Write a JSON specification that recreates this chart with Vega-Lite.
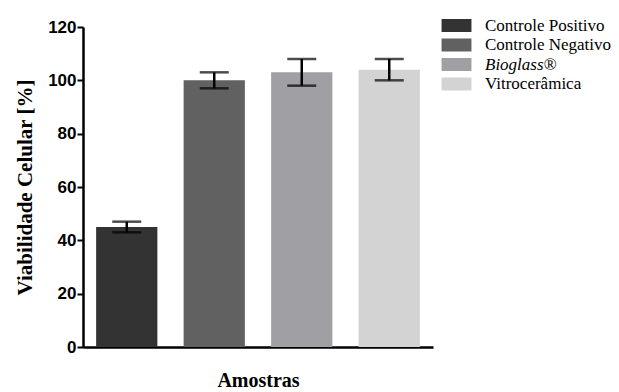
{
  "$schema": "https://vega.github.io/schema/vega-lite/v6.json",
  "autosize": {"type": "none"},
  "padding": {"left": 83, "top": 27, "right": 186, "bottom": 45},
  "width": 350,
  "height": 320,
  "background": "white",
  "data": {
    "values": [
      {"grupo": "Controle Positivo", "media": 45, "inf": 43, "sup": 47},
      {"grupo": "Controle Negativo", "media": 100, "inf": 97, "sup": 103},
      {"grupo": "Bioglass®", "media": 103, "inf": 98, "sup": 108},
      {"grupo": "Vitrocerâmica", "media": 104, "inf": 100, "sup": 108}
    ]
  },
  "encoding": {
    "x": {
      "field": "grupo",
      "type": "nominal",
      "sort": ["Controle Positivo", "Controle Negativo", "Bioglass®", "Vitrocerâmica"],
      "scale": {"paddingInner": 0.3, "paddingOuter": 0.15},
      "axis": {
        "title": "Amostras",
        "labels": false,
        "ticks": false,
        "domainColor": "black",
        "domainWidth": 2.5,
        "titleFont": "Liberation Serif",
        "titleFontSize": 20,
        "titleFontWeight": "bold",
        "titleColor": "black",
        "titlePadding": 23
      }
    }
  },
  "layer": [
    {
      "mark": {"type": "bar"},
      "encoding": {
        "y": {
          "field": "media",
          "type": "quantitative",
          "scale": {"domain": [0, 120]},
          "axis": {
            "title": "Viabilidade Celular [%]",
            "values": [0, 20, 40, 60, 80, 100, 120],
            "grid": false,
            "domainColor": "black",
            "domainWidth": 2.5,
            "tickColor": "black",
            "tickWidth": 2,
            "tickSize": 6,
            "labelFont": "Liberation Sans",
            "labelFontSize": 17,
            "labelFontWeight": "bold",
            "labelColor": "black",
            "labelPadding": 1,
            "titleFont": "Liberation Serif",
            "titleFontSize": 21,
            "titleFontWeight": "bold",
            "titleColor": "black",
            "titlePadding": 12
          }
        },
        "color": {
          "field": "grupo",
          "type": "nominal",
          "sort": ["Controle Positivo", "Controle Negativo", "Bioglass®", "Vitrocerâmica"],
          "scale": {
            "domain": ["Controle Positivo", "Controle Negativo", "Bioglass®", "Vitrocerâmica"],
            "range": ["#333333", "#616161", "#a0a0a4", "#d3d3d3"]
          },
          "legend": {
            "title": null,
            "orient": "none",
            "legendX": 365,
            "legendY": -10,
            "padding": 0,
            "symbolType": "M-2.3,-1H2.3V1H-2.3Z",
            "symbolSize": 169,
            "symbolStrokeWidth": 0,
            "symbolOpacity": 1,
            "labelFont": "Liberation Serif",
            "labelFontSize": 17,
            "labelColor": "black",
            "labelOffset": 20,
            "rowPadding": 1.5,
            "labelLimit": 200,
            "encode": {
              "labels": {
                "update": {
                  "fontStyle": {"signal": "datum.label === 'Bioglass®' ? 'italic' : 'normal'"}
                }
              }
            }
          }
        }
      }
    },
    {
      "mark": {"type": "rule", "color": "black", "strokeWidth": 2.5},
      "encoding": {
        "y": {"field": "inf", "type": "quantitative"},
        "y2": {"field": "sup"}
      }
    },
    {
      "mark": {"type": "tick", "color": "black", "thickness": 2.5, "size": 29, "orient": "horizontal"},
      "encoding": {
        "y": {"field": "inf", "type": "quantitative"}
      }
    },
    {
      "mark": {"type": "tick", "color": "black", "thickness": 2.5, "size": 29, "orient": "horizontal"},
      "encoding": {
        "y": {"field": "sup", "type": "quantitative"}
      }
    }
  ],
  "config": {"view": {"stroke": null}}
}
